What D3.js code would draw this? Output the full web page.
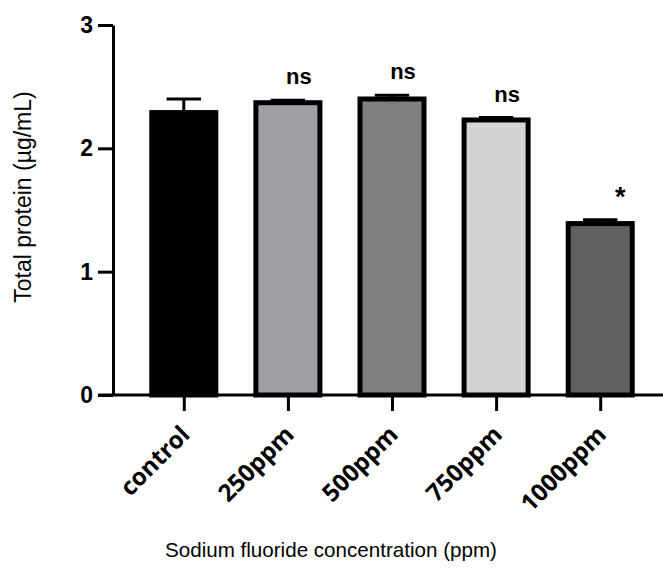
<!DOCTYPE html>
<html><head><meta charset="utf-8">
<script src="https://cdn.jsdelivr.net/npm/d3@7"></script>
<style>body{margin:0;background:#fff}</style>
</head><body><div id="chart"></div>
<script>
const categories = ["control","250ppm","500ppm","750ppm","1000ppm"];
const means = [2.29, 2.37, 2.40, 2.23, 1.39];
const sems = [0.11, 0.02, 0.03, 0.02, 0.03];
const sigLabels = ["", "ns", "ns", "ns", "*"];
const fills = ["#000000", "#a09fa5", "#7f7f7f", "#d4d4d4", "#606060"];
const yTicks = [0, 1, 2, 3];

const W = 663, H = 569;
const svg = d3.select("#chart").append("svg").attr("width", W).attr("height", H);

const y = d3.scaleLinear().domain([0, 3]).range([395, 25]);
const x = d3.scalePoint().domain(categories).range([113, 671]).padding(0.68);
const step = x.step();
const barW = step * 0.615;
const capW = step * 0.33;

// bars
svg.selectAll("rect.bar").data(categories).join("rect")
  .attr("class", "bar")
  .attr("x", d => x(d) - barW / 2)
  .attr("y", (d, i) => y(means[i]))
  .attr("width", barW)
  .attr("height", (d, i) => y(0) - y(means[i]))
  .attr("fill", (d, i) => fills[i])
  .attr("stroke", "#000").attr("stroke-width", 5);

// error bars (upper only)
svg.selectAll("line.err").data(categories).join("line")
  .attr("x1", d => x(d)).attr("x2", d => x(d))
  .attr("y1", (d, i) => y(means[i])).attr("y2", (d, i) => y(means[i] + sems[i]))
  .attr("stroke", "#000").attr("stroke-width", 3);
svg.selectAll("line.cap").data(categories).join("line")
  .attr("x1", d => x(d) - capW / 2).attr("x2", d => x(d) + capW / 2)
  .attr("y1", (d, i) => y(means[i] + sems[i])).attr("y2", (d, i) => y(means[i] + sems[i]))
  .attr("stroke", "#000").attr("stroke-width", 3);

// y axis
const yAxis = svg.append("g").attr("transform", "translate(113,0)")
  .call(d3.axisLeft(y).tickValues(yTicks).tickFormat(d3.format("d")).tickSize(15).tickSizeOuter(0));
yAxis.select(".domain").attr("stroke-width", 3).attr("stroke", "#000");
yAxis.selectAll(".tick line").attr("stroke-width", 3).attr("stroke", "#000");
yAxis.selectAll(".tick text").attr("x", -20).attr("fill", "#000")
  .style("font-family", "Liberation Sans, Arial, sans-serif").style("font-size", "23px").style("font-weight", "bold");

// x axis
const xAxis = svg.append("g").attr("transform", "translate(0,395)")
  .call(d3.axisBottom(x).tickSize(16).tickSizeOuter(0));
xAxis.select(".domain").remove();
xAxis.append("line").attr("x1", 98).attr("x2", 671).attr("y1", 0).attr("y2", 0)
  .attr("stroke", "#000").attr("stroke-width", 3);
xAxis.selectAll(".tick line").attr("stroke-width", 3).attr("stroke", "#000");
xAxis.selectAll(".tick text")
  .attr("text-anchor", "end").attr("fill", "#000")
  .attr("x", 0).attr("y", 0).attr("dy", 0)
  .attr("transform", "translate(7,41) rotate(-45)")
  .style("font-family", "Open Sans, Liberation Sans, sans-serif").style("font-size", "24px").style("font-weight", "bold");

// significance labels
svg.selectAll("text.sig").data(categories).join("text")
  .attr("class", "sig")
  .attr("x", (d, i) => x(d) + (sigLabels[i] === "*" ? 20 : 11))
  .attr("y", (d, i) => y(means[i] + sems[i]) - (sigLabels[i] === "*" ? 14 : 16))
  .attr("text-anchor", "middle")
  .style("font-family", "Liberation Sans, Arial, sans-serif")
  .style("font-size", (d, i) => sigLabels[i] === "*" ? "27px" : "22px")
  .style("font-weight", "bold")
  .attr("fill", "#000")
  .text((d, i) => sigLabels[i]);

// axis titles
svg.append("text").attr("x", 331).attr("y", 557).attr("text-anchor", "middle")
  .style("font-family", "Liberation Sans, Arial, sans-serif").style("font-size", "20.6px")
  .text("Sodium fluoride concentration (ppm)");
svg.append("text").attr("transform", "translate(31,197) rotate(-90)").attr("text-anchor", "middle")
  .style("font-family", "Liberation Sans, Arial, sans-serif").style("font-size", "23px")
  .text("Total protein (µg/mL)");
</script></body></html>
